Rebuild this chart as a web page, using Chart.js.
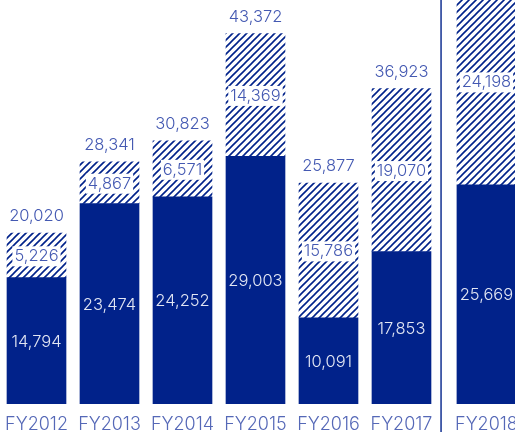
<!DOCTYPE html>
<html lang="en">
<head>
    <meta charset="UTF-8">
    <title>Results by fiscal year</title>
    <script src="https://cdn.jsdelivr.net/npm/chart.js"></script>
    <style>
        html, body {
            margin: 0;
            padding: 0;
            background: #fff;
        }
        .chart-box {
            width: 515px;
            height: 434px;
            position: relative;
        }
    </style>
</head>
<body>
    <div class="chart-box">
        <canvas id="fy-chart"></canvas>
    </div>

    <script>
        const years = ['FY2012', 'FY2013', 'FY2014', 'FY2015', 'FY2016', 'FY2017', 'FY2018'];
        const solidValues = [14794, 23474, 24252, 29003, 10091, 17853, 25669];
        const hatchedValues = [5226, 4867, 6571, 14369, 15786, 19070, 24198];
        const totals = [20020, 28341, 30823, 43372, 25877, 36923, 49867];

        // FY2018 sits after a divider, so it is pushed a little to the right
        const dividerAfter = 5;
        const dividerGap = 0.164;
        const xPos = years.map((y, i) => i + (i > dividerAfter ? dividerGap : 0));

        const NAVY = '#01228a';
        const TEXT_BLUE = '#4459b2';
        const FONT = "'Inter', 'Roboto', sans-serif";

        // diagonal hatch fill
        function makeHatch() {
            const s = 7;
            const c = document.createElement('canvas');
            c.width = s;
            c.height = s;
            const g = c.getContext('2d');
            g.fillStyle = '#fff';
            g.fillRect(0, 0, s, s);
            g.strokeStyle = NAVY;
            g.lineWidth = 1.6;
            g.beginPath();
            g.moveTo(-1, s + 1); g.lineTo(s + 1, -1);
            g.moveTo(-1, 1); g.lineTo(1, -1);
            g.moveTo(s - 1, s + 1); g.lineTo(s + 1, s - 1);
            g.stroke();
            return g.createPattern(c, 'repeat');
        }

        const barLabels = {
            id: 'barLabels',
            afterDatasetsDraw(chart) {
                const ctx = chart.ctx;
                const solid = chart.getDatasetMeta(0).data;
                const hatch = chart.getDatasetMeta(1).data;
                ctx.save();
                ctx.font = '300 16.5px ' + FONT;
                ctx.textAlign = 'center';
                ctx.textBaseline = 'middle';

                solid.forEach((bar, i) => {
                    ctx.fillStyle = '#e2e6f3';
                    ctx.fillText(solidValues[i].toLocaleString('en-US'), bar.x, (bar.y + bar.base) / 2 + 1);
                });

                hatch.forEach((bar, i) => {
                    const txt = hatchedValues[i].toLocaleString('en-US');
                    const w = ctx.measureText(txt).width;
                    const cy = (bar.y + bar.base) / 2 + 1;
                    ctx.fillStyle = '#fff';
                    ctx.fillRect(bar.x - w / 2 - 2, cy - 10, w + 4, 20);
                    ctx.fillStyle = TEXT_BLUE;
                    ctx.fillText(txt, bar.x, cy);
                    ctx.fillText(totals[i].toLocaleString('en-US'), bar.x, bar.y - 17);
                });

                // divider before the latest year
                const xd = chart.scales.x.getPixelForValue(dividerAfter + 0.5 + dividerGap / 2 - 0.04);
                ctx.strokeStyle = NAVY;
                ctx.lineWidth = 1.4;
                ctx.beginPath();
                ctx.moveTo(xd, 0);
                ctx.lineTo(xd, chart.height - 2);
                ctx.stroke();
                ctx.restore();
            }
        };

        const ctx = document.getElementById('fy-chart').getContext('2d');
        new Chart(ctx, {
            type: 'bar',
            data: {
                datasets: [{
                    data: xPos.map((x, i) => ({ x: x, y: solidValues[i] })),
                    backgroundColor: NAVY,
                    borderWidth: 0,
                    barThickness: 59
                }, {
                    data: xPos.map((x, i) => ({ x: x, y: hatchedValues[i] })),
                    backgroundColor: makeHatch(),
                    borderWidth: 0,
                    barThickness: 59
                }]
            },
            options: {
                responsive: true,
                maintainAspectRatio: false,
                animation: false,
                layout: { padding: 0 },
                plugins: {
                    legend: { display: false },
                    tooltip: { enabled: false }
                },
                scales: {
                    x: {
                        type: 'linear',
                        stacked: true,
                        offset: false,
                        min: -0.5,
                        max: 6.555,
                        grid: { display: false, drawTicks: false, offset: false },
                        border: { display: false },
                        afterBuildTicks(axis) {
                            axis.ticks = xPos.map(v => ({ value: v }));
                        },
                        // let the outer labels run off the edges, keep the plot full width
                        afterFit(axis) {
                            axis.paddingLeft = 0;
                            axis.paddingRight = 0;
                            axis.height = 30;
                        },
                        ticks: {
                            padding: 10,
                            color: '#5568b7',
                            font: { family: FONT, size: 18, weight: 300, lineHeight: 1.2 },
                            maxRotation: 0,
                            autoSkip: false,
                            callback: (v) => years[xPos.indexOf(v)]
                        }
                    },
                    y: {
                        stacked: true,
                        display: false,
                        min: 0,
                        max: 47300
                    }
                }
            },
            plugins: [barLabels]
        });
    </script>
</body>
</html>
